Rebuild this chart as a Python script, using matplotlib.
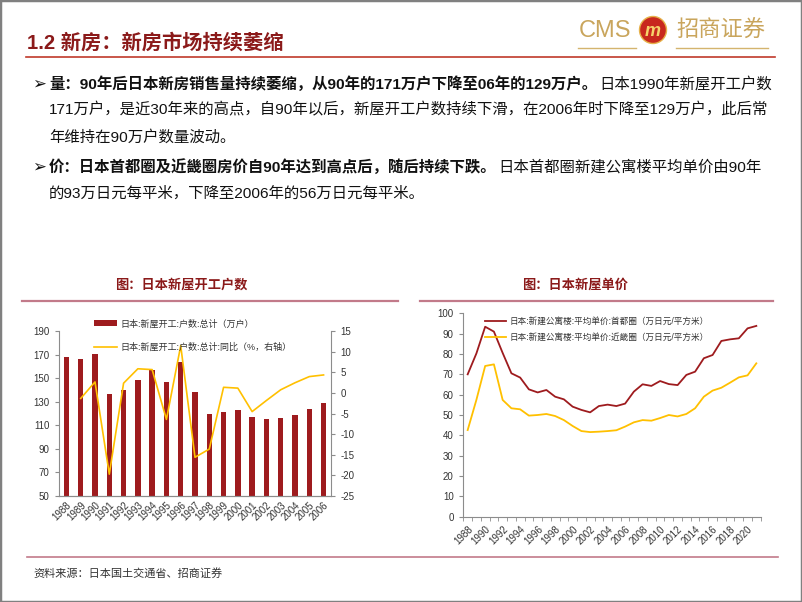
import matplotlib
matplotlib.use('Agg')
import matplotlib.pyplot as plt
import numpy as np
from matplotlib.lines import Line2D
from matplotlib.patches import Rectangle, Ellipse

plt.rcParams['font.family'] = ['Liberation Sans', 'Noto Sans CJK SC', 'DejaVu Sans']
plt.rcParams['axes.unicode_minus'] = False

# ---- data ----
years_a = [str(y) for y in range(1988, 2007)]
starts = [168.5, 166.3, 170.7, 137.0, 140.3, 148.6, 157.0, 147.0, 164.3, 138.7,
          119.8, 121.5, 123.0, 117.4, 115.1, 116.0, 118.9, 123.6, 129.0]
starts_yoy = [np.nan, -1.3, 2.7, -19.7, 2.4, 5.9, 5.7, -6.4, 11.5, -15.6,
              -13.6, 1.4, 1.2, -4.5, -1.8, 0.8, 2.5, 4.0, 4.4]

years_b = [str(y) for y in range(1988, 2022)]
price_tokyo = [70.0, 80.3, 93.4, 91.0, 80.5, 70.5, 68.4, 62.6, 61.1, 62.3,
               59.0, 57.7, 54.1, 52.5, 51.3, 54.4, 55.1, 54.4, 55.6, 61.5,
               65.1, 64.3, 66.7, 65.2, 64.7, 69.7, 71.3, 77.9, 79.5, 86.4,
               87.2, 87.7, 92.6, 93.8]
price_kinki = [42.6, 57.5, 74.1, 74.9, 57.4, 53.3, 52.8, 49.7, 50.0, 50.5,
               49.5, 47.5, 44.6, 42.1, 41.6, 41.8, 42.1, 42.5, 44.3, 46.4,
               47.5, 47.2, 48.5, 50.0, 49.3, 50.5, 53.3, 59.0, 62.0, 63.4,
               65.9, 68.5, 69.5, 75.4]

bullet1_bold = '量：90年后日本新房销售量持续萎缩，从90年的171万户下降至06年的129万户。'
bullet1_rest = '日本1990年新屋开工户数'
bullet1_l2 = '171万户，是近30年来的高点，自90年以后，新屋开工户数持续下滑，在2006年时下降至129万户，此后常'
bullet1_l3 = '年维持在90万户数量波动。'
bullet2_bold = '价：日本首都圈及近畿圈房价自90年达到高点后，随后持续下跌。'
bullet2_rest = '日本首都圈新建公寓楼平均单价由90年'
bullet2_l2 = '的93万日元每平米，下降至2006年的56万日元每平米。'

dark_red = '#8B1A1A'
bar_red = '#9E1B1E'
yellow = '#FFC000'
gold = '#C9A55C'
gray = '#8C8C8C'
pink = '#C27A8A'

W, H = 802, 602
def fx(x):
    return x / W
def fy(y):
    return 1 - y / H

fig = plt.figure(figsize=(8.02, 6.02), dpi=100)
r = fig.canvas.get_renderer()

# frame
fig.add_artist(Rectangle((0, 0), 1, 1, transform=fig.transFigure, fill=False,
                         ec='#808080', lw=2.5))

# header
fig.text(fx(27), fy(43), '1.2 新房：新房市场持续萎缩', fontsize=14.6, fontweight='bold',
         color=dark_red, va='center')
fig.add_artist(Line2D([fx(26), fx(775)], [fy(57)] * 2, color='#C0392B', lw=1.2))

# logo
fig.text(fx(579), fy(31), 'CMS', fontsize=17, color=gold, va='center')
fig.add_artist(Ellipse((fx(653), fy(30)), 27 / W, 27 / H, transform=fig.transFigure,
                       fc='#C8281E', ec='#E6B24A', lw=1))
fig.text(fx(653), fy(31), 'm', fontsize=13, fontweight='bold', style='italic',
         color='#F6D36B', ha='center', va='center')
fig.text(fx(676), fy(31), '招商证券', fontsize=16, color=gold, va='center')
fig.add_artist(Line2D([fx(578), fx(636)], [fy(48)] * 2, color='#D4B46E', lw=1))
fig.add_artist(Line2D([fx(676), fx(768)], [fy(48)] * 2, color='#D4B46E', lw=1))

# bullets
body = 11.1
txt = '#111111'
def put(x, y, s, bold=False):
    return fig.text(fx(x), fy(y), s, fontsize=body, color=txt, va='center',
                    fontweight='bold' if bold else 'normal')

def put_pair(y, bold, rest):
    t = put(49, y, bold, True)
    bb = t.get_window_extent(renderer=r)
    put(bb.x1 + 2, y, rest)

fig.text(fx(32), fy(84), '➢', fontsize=12, color=txt, va='center', family='DejaVu Sans')
put_pair(84, bullet1_bold, bullet1_rest)
put(49, 110, bullet1_l2)
put(49, 137, bullet1_l3)
fig.text(fx(32), fy(167), '➢', fontsize=12, color=txt, va='center', family='DejaVu Sans')
put_pair(167, bullet2_bold, bullet2_rest)
put(49, 194, bullet2_l2)

# chart titles and separators
fig.text(fx(181), fy(285), '图：日本新屋开工户数', fontsize=9.5, fontweight='bold',
         color=dark_red, ha='center', va='center')
fig.text(fx(575), fy(285), '图：日本新屋单价', fontsize=9.5, fontweight='bold',
         color=dark_red, ha='center', va='center')
fig.add_artist(Line2D([fx(22), fx(398)], [fy(301)] * 2, color=pink, lw=1.6))
fig.add_artist(Line2D([fx(420), fx(773)], [fy(301)] * 2, color=pink, lw=1.6))

# footer
fig.add_artist(Line2D([fx(27), fx(778)], [fy(557)] * 2, color=pink, lw=1.2))
fig.text(fx(33), fy(573), '资料来源：日本国土交通省、招商证券', fontsize=8, color='#333333',
         va='center')

def style_ticks(ax):
    for lab in ax.get_xticklabels() + ax.get_yticklabels():
        lab.set_fontsize(7)
        lab.set_color('#333333')

# ---- left chart ----
ax1 = fig.add_axes([fx(59.3), fy(496), (330.7 - 59.3) / W, (496 - 331.3) / H])
xa = np.arange(len(years_a))
bars = ax1.bar(xa, starts, width=0.38, color=bar_red, zorder=2,
               label='日本:新屋开工:户数:总计（万户）')
ax1.set_ylim(50, 190)
ax1.set_yticks(range(50, 191, 20))
ax1.set_xlim(-0.5, len(years_a) - 0.5)
ax1.set_xticks(xa)
ax1.set_xticklabels(years_a, rotation=45, ha='right', rotation_mode='anchor')
ax2 = ax1.twinx()
line, = ax2.plot(xa, starts_yoy, color=yellow, lw=1.2,
                 label='日本:新屋开工:户数:总计:同比（%，右轴）')
ax2.set_ylim(-25, 15)
ax2.set_yticks(range(-25, 16, 5))
for ax in (ax1, ax2):
    ax.spines['top'].set_visible(False)
    for s in ax.spines.values():
        s.set_color(gray)
        s.set_linewidth(0.8)
    ax.tick_params(axis='y', direction='out', length=3, color=gray, pad=4)
    ax.tick_params(axis='x', length=0, pad=3)
    style_ticks(ax)
ax1.spines['right'].set_visible(False)
ax2.spines['left'].set_visible(False)
ax2.legend(handles=[bars, line], loc='upper left', bbox_to_anchor=(fx(94), fy(319)),
           bbox_transform=fig.transFigure, frameon=False, fontsize=6.5,
           handlelength=2.55, handletextpad=0.35, labelspacing=1.6,
           borderpad=0, borderaxespad=0, labelcolor='#333333')

# ---- right chart ----
ax3 = fig.add_axes([fx(463.3), fy(516.7), (760.7 - 463.3) / W, (516.7 - 313.3) / H])
xb = np.arange(len(years_b))
ax3.plot(xb, price_tokyo, color=bar_red, lw=1.3,
         label='日本:新建公寓楼:平均单价:首都圈（万日元/平方米）')
ax3.plot(xb, price_kinki, color=yellow, lw=1.3,
         label='日本:新建公寓楼:平均单价:近畿圈（万日元/平方米）')
ax3.set_xlim(-0.5, len(years_b) - 0.5)
ax3.set_ylim(0, 100)
ax3.set_yticks(range(0, 101, 10))
ax3.set_xticks(xb[::2])
ax3.set_xticklabels(years_b[::2], rotation=45, ha='right', rotation_mode='anchor')
ax3.set_xticks(np.arange(-0.5, len(years_b)), minor=True)
for side in ('top', 'right'):
    ax3.spines[side].set_visible(False)
for s in ax3.spines.values():
    s.set_color(gray)
    s.set_linewidth(0.8)
ax3.tick_params(axis='y', direction='out', length=3, color=gray, pad=4)
ax3.tick_params(axis='x', which='major', length=0, pad=5)
ax3.tick_params(axis='x', which='minor', direction='out', length=3, color=gray)
style_ticks(ax3)
ax3.legend(loc='upper left', bbox_to_anchor=(fx(485), fy(317)),
           bbox_transform=fig.transFigure, frameon=False, fontsize=6.2,
           handlelength=2.45, handletextpad=0.35, labelspacing=0.8,
           borderpad=0, borderaxespad=0, labelcolor='#333333')

fig.savefig('out.png', dpi=100)
